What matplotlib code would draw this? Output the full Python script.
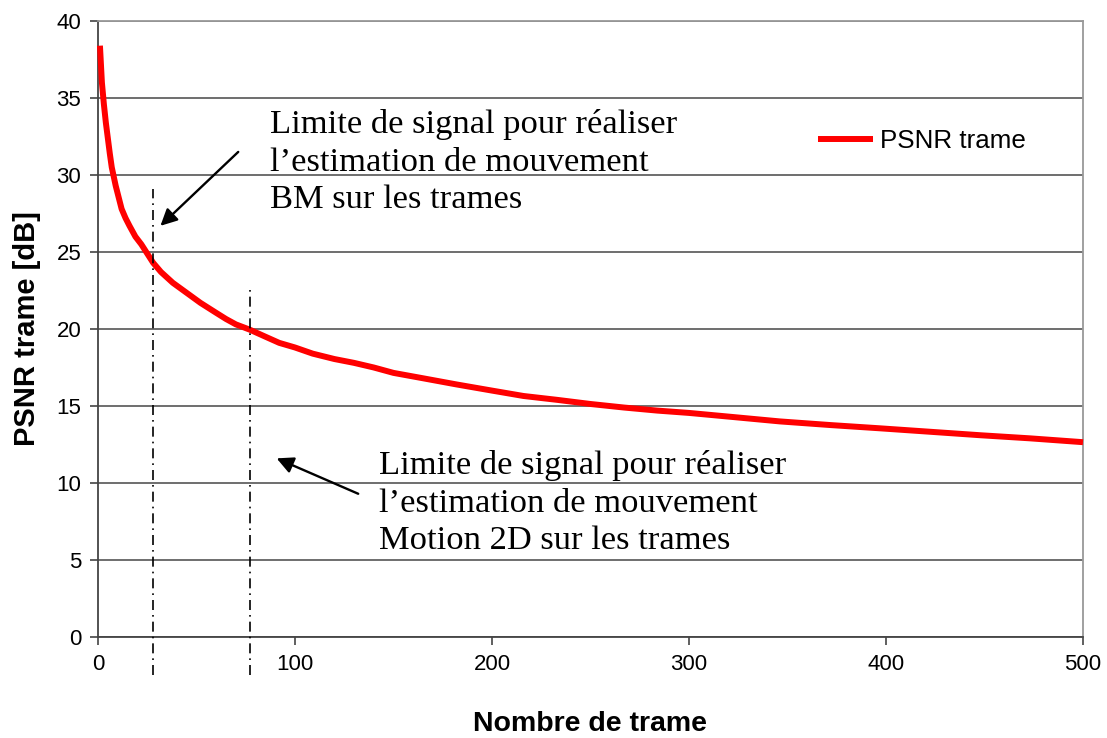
import matplotlib
matplotlib.use("Agg")
import matplotlib.pyplot as plt

# PSNR per frame over the sequence
frames = [1, 2, 3, 4, 5, 6, 7, 8, 9, 10, 12, 14, 16, 19, 22, 26, 28, 32, 38, 45, 52,
          60, 65, 70, 77, 85, 92, 100, 109, 120, 130, 140, 150, 165, 182, 200, 216,
          233, 250, 267, 284, 300, 321, 346, 372, 397, 422, 448, 473, 500]
psnr = [38.4, 36.0, 34.6, 33.4, 32.4, 31.4, 30.5, 29.9, 29.3, 28.8, 27.8, 27.2, 26.7,
        26.0, 25.5, 24.7, 24.3, 23.7, 23.0, 22.35, 21.7, 21.05, 20.65, 20.3, 19.96,
        19.5, 19.1, 18.8, 18.4, 18.05, 17.8, 17.5, 17.15, 16.8, 16.4, 16.0, 15.65,
        15.4, 15.13, 14.9, 14.7, 14.55, 14.3, 14.0, 13.76, 13.55, 13.33, 13.1, 12.9,
        12.65]

series_label = "PSNR trame"
x_label = "Nombre de trame"
y_label = "PSNR trame [dB]"
x_ticks = [0, 100, 200, 300, 400, 500]
y_ticks = [0, 5, 10, 15, 20, 25, 30, 35, 40]

# frame limits for the two motion-estimation methods
limit_bm = 28
limit_motion2d = 77
note_bm = "Limite de signal pour réaliser\nl’estimation de mouvement\nBM sur les trames"
note_m2d = "Limite de signal pour réaliser\nl’estimation de mouvement\nMotion 2D sur les trames"

sans = "Liberation Sans"
serif = "Liberation Serif"

fig = plt.figure(figsize=(11.07, 7.38), dpi=100)
ax = fig.add_axes([0.0885, 0.1369, 0.8898, 0.8346])

ax.set_xlim(0, 500)
ax.set_ylim(0, 40)
ax.set_xticks(x_ticks)
ax.set_yticks(y_ticks)
ax.tick_params(axis="both", direction="out", length=6, width=1.2, color="#444444",
               labelsize=16, pad=6)
for lab in ax.get_xticklabels() + ax.get_yticklabels():
    lab.set_fontfamily(sans)

ax.yaxis.grid(True, color="#555555", linewidth=1.2)
ax.set_axisbelow(True)
for side in ("left", "bottom"):
    ax.spines[side].set_color("#444444")
    ax.spines[side].set_linewidth(1.3)
for side in ("top", "right"):
    ax.spines[side].set_color("#999999")
    ax.spines[side].set_linewidth(1.3)

ax.plot(frames, psnr, color="#ff0000", linewidth=4.3, solid_capstyle="butt",
        solid_joinstyle="round", label=series_label, zorder=3, clip_on=False)

# dash-dot markers at the two limits, extending below the x axis
ax.plot([limit_bm, limit_bm], [-2.5, 29.1], color="black", linewidth=1.2,
        linestyle=(0, (6, 3, 1, 3)), clip_on=False, zorder=4)
ax.plot([limit_motion2d, limit_motion2d], [-2.5, 22.8], color="black", linewidth=1.2,
        linestyle=(0, (6, 3, 1, 3)), clip_on=False, zorder=4)

ax.annotate("", xy=(31.7, 26.7), xytext=(71.2, 31.5),
            arrowprops=dict(arrowstyle="-|>", color="black", lw=1.7,
                            mutation_scale=25, shrinkA=0, shrinkB=0))
ax.annotate("", xy=(90.7, 11.6), xytext=(132.1, 9.3),
            arrowprops=dict(arrowstyle="-|>", color="black", lw=1.7,
                            mutation_scale=25, shrinkA=0, shrinkB=0))

# baseline of the last line of each note block
ax.text(87.3, 27.85, note_bm, family=serif, fontsize=24.8, ha="left", va="baseline",
        linespacing=1.3)
ax.text(142.6, 5.7, note_m2d, family=serif, fontsize=24.8, ha="left", va="baseline",
        linespacing=1.3)

ax.set_xlabel(x_label, family=sans, fontsize=20.5, fontweight="bold", labelpad=26)
ax.set_ylabel(y_label, family=sans, fontsize=21, fontweight="bold", labelpad=11)

ax.legend(loc="center left", bbox_to_anchor=(0.731, 0.805), frameon=False,
          borderpad=0, borderaxespad=0, handlelength=2.1, handletextpad=0.3,
          prop={"family": sans, "size": 18.7})

fig.savefig("out.png", dpi=100)
